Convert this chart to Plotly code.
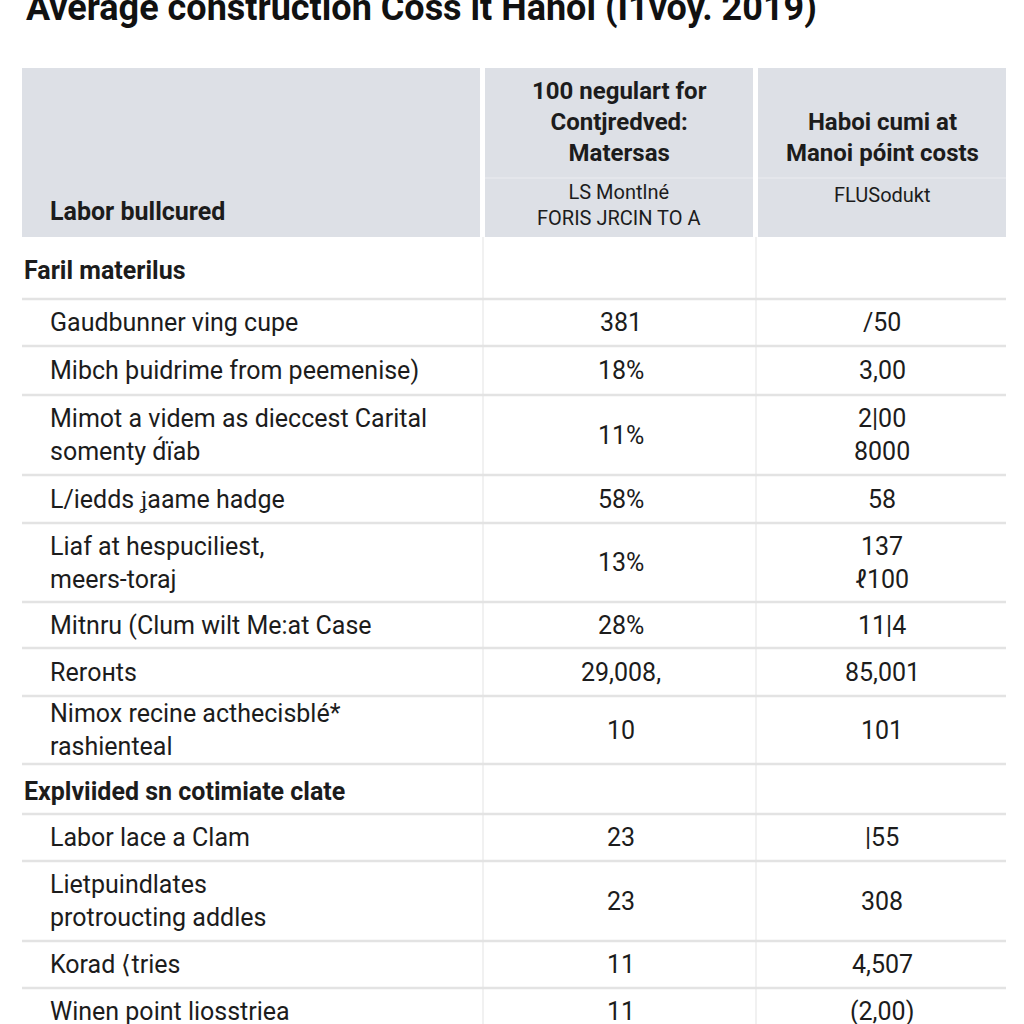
import plotly.graph_objects as go

# ---------------- data ----------------
title = "Average construction Coss it Hanoi (I1voy. 2019)"
header_label = "Labor bullcured"
col_headers = ["100 negulart for<br>Contjredved:<br>Matersas", "Haboi cumi at<br>Manoi póint costs"]
col_subheaders = ["LS Montlné<br>FORIS JRCIN TO A", "FLUSodukt"]

section_names = ["Faril materilus", "Explviided sn cotimiate clate"]

section1_items = [
    "Gaudbunner ving cupe",
    "Mibch þuidrime from peemenise)",
    "Mimot a videm as dieccest Carital<br>somenty d́ïab",
    "L/iedds ʝaame hadge",
    "Liaf at hespuciliest,<br>meers-toraj",
    "Mitnru (Clum wilt Me:at Case",
    "Rerонts",
    "Nimox recine acthecisblé*<br>rashienteal",
]
section1_col2 = ["381", "18%", "11%", "58%", "13%", "28%", "29,008,", "10"]
section1_col3 = ["/50", "3,00", "2|00<br>8000", "58", "137<br>ℓ100", "11|4", "85,001", "101"]

section2_items = [
    "Labor lace a Clam",
    "Lietpuindlates<br>protroucting addles",
    "Korad ⟨tries",
    "Winen point liosstriea",
]
section2_col2 = ["23", "23", "11", "11"]
section2_col3 = ["|55", "308", "4,507", "(2,00)"]

# ---------------- layout constants ----------------
W = H = 1024
X0, X1 = 22, 1006
COL2 = (485, 753)
COL3 = (758, 1006)
HEAD_TOP, HEAD_BOT = 68, 237
SECTION_H = [62, 50]
ROW_H1 = [47, 49, 80, 48, 79, 46, 48, 68]
ROW_H2 = [47, 80, 47, 47]
FONT = "Roboto"
TXT = "#1c1c1c"
LINE = "#e3e3e3"
BODY = 25

fig = go.Figure()
shapes = []
ann = []

# title (partly cut off at the top edge, as in the reference)
ann.append(dict(x=24, xref="x", y=1 - 8 / H, yref="paper", text=f"<b>{title}</b>",
                xanchor="left", yanchor="middle",
                font=dict(size=36, family=FONT, color="#111111"), showarrow=False))

# header blocks
for (a, b) in [(X0, 480), COL2, COL3]:
    shapes.append(dict(type="rect", x0=a, x1=b, y0=HEAD_TOP, y1=HEAD_BOT,
                       fillcolor="#dde0e6", line=dict(width=0), layer="below"))
for (a, b) in [COL2, COL3]:
    shapes.append(dict(type="line", x0=a, x1=b, y0=178, y1=178,
                       line=dict(color="#e6e8ec", width=1.5)))

ann.append(dict(x=48, y=211, text=f"<b>{header_label}</b>", xanchor="left", yanchor="middle",
                font=dict(size=25, family=FONT, color=TXT), showarrow=False))
header_centers = [122, 137]
for i, (a, b) in enumerate([COL2, COL3]):
    ann.append(dict(x=(a + b) / 2, y=header_centers[i], text=f"<b>{col_headers[i]}</b>",
                    xanchor="center", yanchor="middle",
                    font=dict(size=24, family=FONT, color=TXT), showarrow=False))
sub_centers = [205, 195]
for i, (a, b) in enumerate([COL2, COL3]):
    ann.append(dict(x=(a + b) / 2, y=sub_centers[i], text=col_subheaders[i],
                    xanchor="center", yanchor="middle",
                    font=dict(size=20, family=FONT, color=TXT), showarrow=False))

# body
y = HEAD_BOT
sections = [(section1_items, section1_col2, section1_col3, ROW_H1),
            (section2_items, section2_col2, section2_col3, ROW_H2)]
for s, (items, c2, c3, heights) in enumerate(sections):
    sh = SECTION_H[s]
    ann.append(dict(x=X0, y=y + sh / 2 + 2, text=f"<b>{section_names[s]}</b>", xanchor="left",
                    yanchor="middle", font=dict(size=25, family=FONT, color=TXT), showarrow=False))
    y += sh
    shapes.append(dict(type="line", x0=X0, x1=X1, y0=y, y1=y, line=dict(color=LINE, width=2.5)))
    for i, lab in enumerate(items):
        h = heights[i]
        cy = y + h / 2
        ann.append(dict(x=48, y=cy, text=lab, xanchor="left", yanchor="middle", align="left",
                        font=dict(size=BODY, family=FONT, color=TXT), showarrow=False))
        ann.append(dict(x=sum(COL2) / 2 + 2, y=cy, text=c2[i], xanchor="center", yanchor="middle",
                        font=dict(size=BODY, family=FONT, color=TXT), showarrow=False))
        ann.append(dict(x=sum(COL3) / 2, y=cy, text=c3[i], xanchor="center", yanchor="middle",
                        font=dict(size=BODY, family=FONT, color=TXT), showarrow=False))
        y += h
        shapes.append(dict(type="line", x0=X0, x1=X1, y0=y, y1=y, line=dict(color=LINE, width=2.5)))

# vertical separators
for xv in [483, 756]:
    shapes.append(dict(type="line", x0=xv, x1=xv, y0=HEAD_BOT, y1=H,
                       line=dict(color="#ececec", width=1.5), layer="below"))

fig.update_layout(
    width=W, height=H, margin=dict(l=0, r=0, t=0, b=0),
    paper_bgcolor="white", plot_bgcolor="white",
    xaxis=dict(range=[0, W], visible=False, fixedrange=True),
    yaxis=dict(range=[H, 0], visible=False, fixedrange=True),
    shapes=shapes, annotations=ann, showlegend=False,
)

fig.write_html("out.html", config={"displayModeBar": False},
               post_script="document.body.style.margin='0';document.body.style.overflow='hidden';")
